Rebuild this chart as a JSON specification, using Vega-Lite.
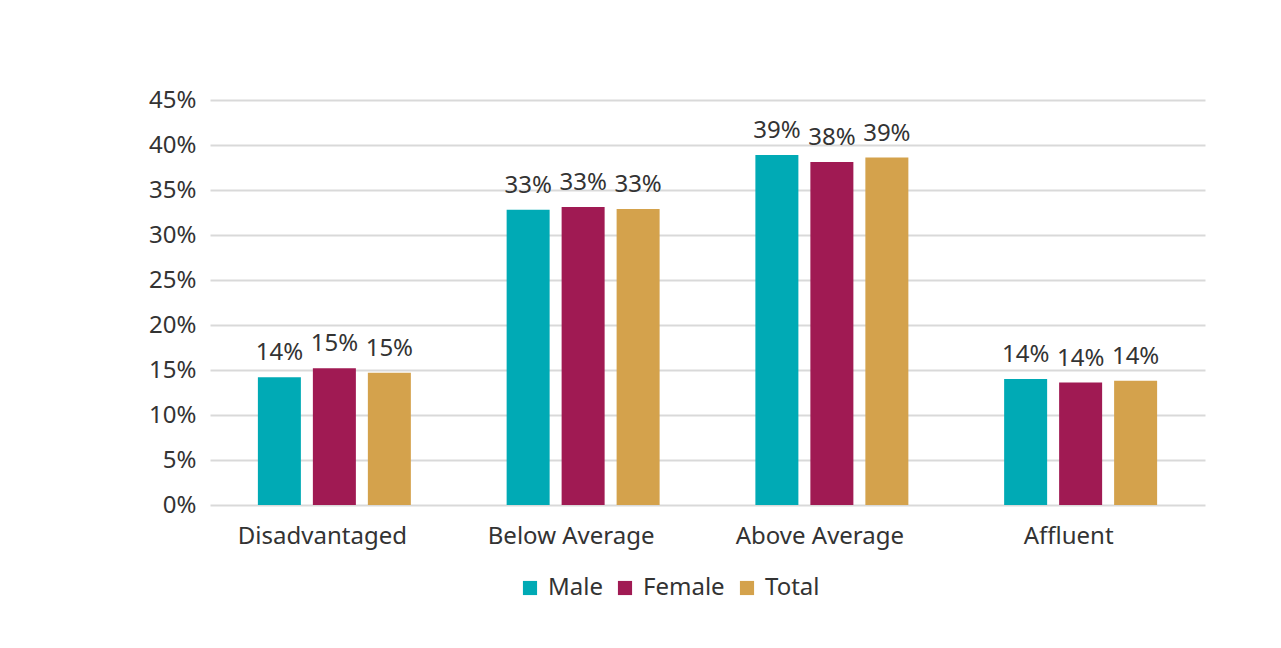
{
  "$schema": "https://vega.github.io/schema/vega-lite/v6.json",
  "autosize": "none",
  "width": 995,
  "height": 405,
  "padding": {"left": 210, "top": 100, "right": 76, "bottom": 143},
  "background": "white",
  "config": {
    "font": "Noto Sans",
    "view": {"stroke": null}
  },
  "data": {
    "values": [
      {"area": "Disadvantaged", "group": "Male", "value": 0.142},
      {"area": "Disadvantaged", "group": "Female", "value": 0.152},
      {"area": "Disadvantaged", "group": "Total", "value": 0.147},
      {"area": "Below Average", "group": "Male", "value": 0.328},
      {"area": "Below Average", "group": "Female", "value": 0.331},
      {"area": "Below Average", "group": "Total", "value": 0.329},
      {"area": "Above Average", "group": "Male", "value": 0.389},
      {"area": "Above Average", "group": "Female", "value": 0.381},
      {"area": "Above Average", "group": "Total", "value": 0.386},
      {"area": "Affluent", "group": "Male", "value": 0.14},
      {"area": "Affluent", "group": "Female", "value": 0.136},
      {"area": "Affluent", "group": "Total", "value": 0.138}
    ]
  },
  "encoding": {
    "x": {
      "field": "area", "type": "nominal",
      "sort": ["Disadvantaged", "Below Average", "Above Average", "Affluent"],
      "scale": {"paddingInner": 0.385, "paddingOuter": 0.1925},
      "axis": {"title": null, "labelAngle": 0, "labelFontSize": 24, "labelColor": "#333333", "labelPadding": 19, "labelOffset": -12, "ticks": false, "domain": false}
    },
    "xOffset": {
      "field": "group", "type": "nominal",
      "sort": ["Male", "Female", "Total"],
      "scale": {"paddingInner": 0.218, "paddingOuter": 0}
    },
    "y": {
      "field": "value", "type": "quantitative",
      "scale": {"domain": [0, 0.45], "nice": false},
      "axis": {"title": null, "format": ".0%", "values": [0, 0.05, 0.1, 0.15, 0.2, 0.25, 0.3, 0.35, 0.4, 0.45], "labelFontSize": 24, "labelColor": "#333333", "labelPadding": 14, "ticks": false, "domain": false, "gridColor": "#d9d9d9", "gridWidth": 2}
    }
  },
  "layer": [
    {
      "mark": {"type": "bar"},
      "encoding": {
        "color": {
          "field": "group", "type": "nominal",
          "sort": ["Male", "Female", "Total"],
          "scale": {"domain": ["Male", "Female", "Total"], "range": ["#00AAB5", "#A01A53", "#D4A24C"]},
          "legend": {
            "title": null, "orient": "none", "direction": "horizontal",
            "legendX": 308, "legendY": 476,
            "symbolType": "square", "symbolSize": 200, "symbolStrokeWidth": 0, "symbolOpacity": 1,
            "labelFontSize": 24, "labelColor": "#333333", "labelOffset": 6, "columnPadding": 10
          }
        }
      }
    },
    {
      "mark": {"type": "text", "baseline": "bottom", "dy": -12, "fontSize": 24, "color": "#333333"},
      "encoding": {
        "text": {"field": "value", "type": "quantitative", "format": ".0%"}
      }
    }
  ]
}
